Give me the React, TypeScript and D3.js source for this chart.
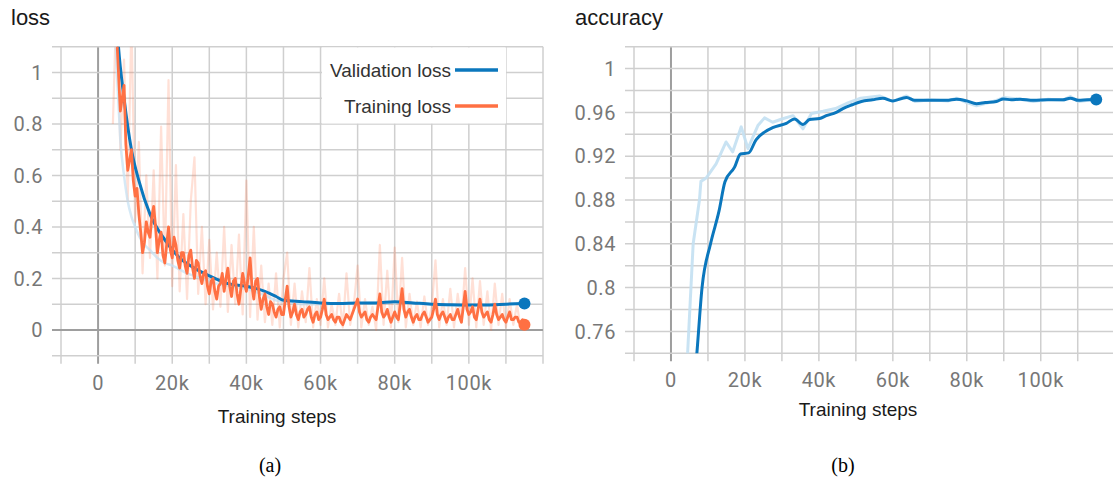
import React, { useEffect, useRef } from 'react';
import * as d3 from 'd3';

const W = 1113;
const H = 479;

// training loss (smoothed), logged every 500 steps from 5k
const trainStart = 5000;
const trainEvery = 500;
const trainLoss = [
  1.15, 1.0, 0.85, 0.9, 0.95, 0.72, 0.62, 0.66, 0.7, 0.58,
  0.52, 0.55, 0.45, 0.38, 0.3, 0.34, 0.42, 0.38, 0.36, 0.44,
  0.48, 0.4, 0.3, 0.35, 0.38, 0.29, 0.26, 0.33, 0.4, 0.31,
  0.28, 0.36, 0.33, 0.27, 0.24, 0.3, 0.3, 0.25, 0.22, 0.29,
  0.31, 0.24, 0.2, 0.27, 0.26, 0.21, 0.18, 0.22, 0.23, 0.17,
  0.14, 0.19, 0.2, 0.15, 0.12, 0.17, 0.18, 0.22, 0.15, 0.2,
  0.24, 0.17, 0.13, 0.19, 0.2, 0.14, 0.1, 0.16, 0.22, 0.18,
  0.15, 0.21, 0.28, 0.17, 0.12, 0.19, 0.2, 0.13, 0.08, 0.12,
  0.14, 0.09, 0.06, 0.11, 0.1, 0.07, 0.05, 0.08, 0.09, 0.06,
  0.06, 0.12, 0.17, 0.09, 0.05, 0.07, 0.1, 0.06, 0.04, 0.07,
  0.08, 0.05, 0.06, 0.08, 0.09, 0.05, 0.03, 0.06, 0.07, 0.04,
  0.05, 0.08, 0.12, 0.06, 0.04, 0.05, 0.06, 0.04, 0.03, 0.05,
  0.05, 0.03, 0.02, 0.04, 0.06, 0.05, 0.04, 0.06, 0.08, 0.1,
  0.12, 0.07, 0.05, 0.06, 0.07, 0.04, 0.03, 0.05, 0.06, 0.05,
  0.04, 0.09, 0.14, 0.07, 0.05, 0.06, 0.08, 0.05, 0.03, 0.05,
  0.07, 0.05, 0.04, 0.1, 0.16, 0.08, 0.05, 0.07, 0.08, 0.05,
  0.03, 0.05, 0.06, 0.04, 0.04, 0.06, 0.07, 0.05, 0.03, 0.04,
  0.05, 0.08, 0.12, 0.06, 0.04, 0.06, 0.07, 0.05, 0.03, 0.05,
  0.06, 0.04, 0.04, 0.06, 0.08, 0.05, 0.03, 0.09, 0.15, 0.08,
  0.06, 0.07, 0.09, 0.05, 0.04, 0.08, 0.12, 0.07, 0.05, 0.06,
  0.07, 0.04, 0.03, 0.06, 0.1, 0.06, 0.04, 0.05, 0.06, 0.04,
  0.03, 0.05, 0.07, 0.04, 0.04, 0.05, 0.05, 0.03, 0.03, 0.04,
  0.02,
];

// raw (unsmoothed) training loss, every 1k steps from 4k
const rawStart = 4000;
const rawEvery = 1000;
const trainLossRaw = [
  0.8, 1.3, 0.7, 1.05, 0.5, 1.2, 0.42, 0.73, 0.22, 0.6,
  0.28, 0.62, 0.2, 0.79, 0.25, 0.97, 0.17, 0.64, 0.15, 0.45,
  0.12, 0.5, 0.67, 0.14, 0.4, 0.1, 0.35, 0.08, 0.3, 0.09,
  0.4, 0.07, 0.33, 0.1, 0.37, 0.06, 0.58, 0.05, 0.4, 0.04,
  0.25, 0.03, 0.18, 0.02, 0.22, 0.01, 0.2, 0.3, 0.02, 0.18,
  0.01, 0.15, 0.03, 0.24, 0.01, 0.12, 0.02, 0.2, 0.01, 0.1,
  0.02, 0.14, 0.01, 0.22, 0.02, 0.1, 0.25, 0.01, 0.12, 0.02,
  0.09, 0.0, 0.33, 0.02, 0.23, 0.01, 0.32, 0.03, 0.28, 0.01,
  0.14, 0.02, 0.11, 0.01, 0.13, 0.02, 0.09, 0.27, 0.01, 0.12,
  0.02, 0.16, 0.01, 0.14, 0.03, 0.24, 0.02, 0.2, 0.01, 0.19,
  0.02, 0.15, 0.0, 0.18, 0.02, 0.14, 0.01, 0.12, 0.02, 0.1,
  0.0,
];

const valSteps = [
  4800, 5500, 7000, 9000, 11000, 14000, 18000, 22000, 26000, 30000,
  35000, 40000, 45000, 48000, 50000, 55000, 60000, 65000, 70000, 75000,
  80000, 85000, 90000, 95000, 100000, 105000, 110000, 115000,
];
const valLoss = [
  1.25, 1.1, 0.9, 0.7, 0.58, 0.45, 0.35, 0.28, 0.24, 0.21,
  0.18, 0.17, 0.15, 0.13, 0.115, 0.11, 0.105, 0.103, 0.105, 0.105,
  0.11, 0.105, 0.1, 0.098, 0.097, 0.097, 0.1, 0.103,
];

const valRawSteps = [
  4500, 5000, 5500, 6000, 7000, 8000, 9000, 10000, 12000, 14000,
  16000, 18000, 20000, 24000, 28000, 32000, 36000, 40000, 44000, 48000,
  52000, 56000, 60000, 70000, 80000, 90000, 100000, 110000, 115000,
];
const valLossRaw = [
  1.2, 1.02, 0.88, 0.74, 0.6, 0.5, 0.44, 0.4, 0.34, 0.31,
  0.28, 0.26, 0.25, 0.22, 0.2, 0.18, 0.17, 0.16, 0.14, 0.115,
  0.105, 0.1, 0.1, 0.104, 0.108, 0.098, 0.095, 0.1, 0.102,
];

const accSteps = [
  6500, 7000, 8400, 10700, 13000, 14600, 17200, 18800, 21000, 23000,
  25300, 27500, 31200, 33400, 35700, 37500, 40200, 42000, 44700, 46500,
  49000, 51500, 54500, 57300, 60000, 63700, 65900, 70000, 74500, 77200,
  80000, 82600, 85000, 88000, 89900, 92000, 94400, 98000, 102000, 106000,
  108000, 110200, 112500, 115000,
];
const accuracy = [
  0.72, 0.74, 0.8, 0.84, 0.87, 0.8966, 0.91, 0.922, 0.923, 0.935,
  0.942, 0.946, 0.95, 0.954, 0.949, 0.9535, 0.9544, 0.957, 0.96, 0.9635,
  0.967, 0.97, 0.9715, 0.973, 0.9705, 0.9736, 0.971, 0.971, 0.971, 0.972,
  0.9705, 0.968, 0.969, 0.97, 0.9723, 0.9715, 0.972, 0.971, 0.9715, 0.9715,
  0.973, 0.971, 0.9715, 0.9717,
];

const accRawSteps = [
  4000, 4500, 6000, 7700, 8100, 9500, 12200, 14900, 16700, 19000,
  20800, 23500, 25300, 27500, 30000, 33000, 35700, 38000, 41100, 44500,
  48000, 51300, 56400, 60000, 63700, 66000, 70000, 75000, 77200, 80000,
  82600, 85000, 88000, 90000, 94400, 98000, 102000, 106000, 108000, 110200,
  115000,
];
const accuracyRaw = [
  0.7, 0.74, 0.84, 0.88, 0.897, 0.9, 0.913, 0.933, 0.924, 0.9468,
  0.927, 0.948, 0.955, 0.951, 0.954, 0.957, 0.945, 0.959, 0.961, 0.9635,
  0.969, 0.973, 0.975, 0.97, 0.975, 0.97, 0.9715, 0.9705, 0.973, 0.969,
  0.966, 0.968, 0.971, 0.9735, 0.972, 0.97, 0.972, 0.971, 0.9745, 0.97,
  0.972,
];

const xTicks = [0, 20000, 40000, 60000, 80000, 100000];
const lossTicks = [0, 0.2, 0.4, 0.6, 0.8, 1];
const accTicks = [0.76, 0.8, 0.84, 0.88, 0.92, 0.96, 1];

const BLUE = '#0b77bd';
const LIGHT_BLUE = '#c3e0f2';
const ORANGE = '#ff7043';
const TICK_FONT = 'Roboto, sans-serif';
const LABEL_FONT = '"Liberation Sans", Arial, sans-serif';

type Pt = [number, number];

const App = () => {
  const svgRef = useRef<SVGSVGElement>(null);

  useEffect(() => {
    const svg = d3.select(svgRef.current);
    svg.selectAll('*').remove();

    const drawPanel = (opts: {
      id: string;
      x0: number; x1: number; y0: number; y1: number;
      yDomain: [number, number]; yGrid: number; yTicks: number[];
      title: string; titleX: number; axisLabelX: number; axisLabelY: number;
    }) => {
      const x = d3.scaleLinear().domain([-10000, 120000]).range([opts.x0, opts.x1]);
      const y = d3.scaleLinear().domain(opts.yDomain).range([opts.y1, opts.y0]);
      const g = svg.append('g');

      g.append('clipPath').attr('id', opts.id)
        .append('rect')
        .attr('x', opts.x0).attr('y', opts.y0)
        .attr('width', Math.min(opts.x1, W) - opts.x0).attr('height', opts.y1 - opts.y0);

      // grid, with the lines running past the frame as ticks
      const xGrid = d3.range(-10000, 120001, 10000);
      g.selectAll('.vg').data(xGrid).enter().append('line')
        .attr('x1', (d) => x(d)).attr('x2', (d) => x(d))
        .attr('y1', opts.y0).attr('y2', opts.y1 + 8)
        .attr('stroke', (d) => (d === 0 ? '#9e9e9e' : '#cfcfcf'))
        .attr('stroke-width', (d) => (d === 0 ? 2 : 1.5));
      const n = Math.round((opts.yDomain[1] - opts.yDomain[0]) / opts.yGrid);
      const yGridVals = d3.range(0, n + 1).map((i) => opts.yDomain[0] + i * opts.yGrid);
      g.selectAll('.hg').data(yGridVals).enter().append('line')
        .attr('x1', opts.x0 - 9).attr('x2', opts.x1)
        .attr('y1', (d) => y(d)).attr('y2', (d) => y(d))
        .attr('stroke', (d) => (Math.abs(d) < 1e-9 ? '#9e9e9e' : '#cfcfcf'))
        .attr('stroke-width', (d) => (Math.abs(d) < 1e-9 ? 2 : 1.5));

      // tick labels
      g.selectAll('.xt').data(xTicks).enter().append('text')
        .attr('x', (d) => x(d)).attr('y', opts.y1 + 34)
        .attr('text-anchor', 'middle')
        .attr('font-family', TICK_FONT).attr('font-size', 20)
        .attr('letter-spacing', 0.6).attr('fill', '#777')
        .text((d) => (d === 0 ? '0' : `${d / 1000}k`));
      g.selectAll('.yt').data(opts.yTicks).enter().append('text')
        .attr('x', opts.x0 - 18).attr('y', (d) => y(d)).attr('dy', '0.36em')
        .attr('text-anchor', 'end')
        .attr('font-family', TICK_FONT).attr('font-size', 20)
        .attr('letter-spacing', 0.6).attr('fill', '#777')
        .text((d) => String(d));

      g.append('text')
        .attr('x', opts.titleX).attr('y', 25)
        .attr('font-family', LABEL_FONT).attr('font-size', 22).attr('fill', '#1a1a1a')
        .text(opts.title);
      g.append('text')
        .attr('x', opts.axisLabelX).attr('y', opts.axisLabelY)
        .attr('text-anchor', 'middle')
        .attr('font-family', LABEL_FONT).attr('font-size', 19).attr('fill', '#1a1a1a')
        .text('Training steps');

      const plot = g.append('g').attr('clip-path', `url(#${opts.id})`);
      return { x, y, plot, g };
    };

    const addLine = (plot: any, pts: Pt[], color: string, width: number, curve: any, opacity = 1) => {
      plot.append('path')
        .attr('d', d3.line<Pt>().x((d) => d[0]).y((d) => d[1]).curve(curve)(pts))
        .attr('fill', 'none').attr('stroke', color)
        .attr('stroke-width', width).attr('stroke-opacity', opacity)
        .attr('stroke-linejoin', 'round');
    };

    // ---------- loss ----------
    const L = drawPanel({
      id: 'clipLoss', x0: 61, x1: 543, y0: 46.7, y1: 355.7,
      yDomain: [-0.1, 1.1], yGrid: 0.1, yTicks: lossTicks,
      title: 'loss', titleX: 11, axisLabelX: 277, axisLabelY: 423,
    });
    const trainRawPts: Pt[] = trainLossRaw.map((v, i) => [L.x(rawStart + i * rawEvery), L.y(v)]);
    const trainPts: Pt[] = trainLoss.map((v, i) => [L.x(trainStart + i * trainEvery), L.y(v)]);
    const valRawPts: Pt[] = valLossRaw.map((v, i) => [L.x(valRawSteps[i]), L.y(v)]);
    const valPts: Pt[] = valLoss.map((v, i) => [L.x(valSteps[i]), L.y(v)]);
    addLine(L.plot, trainRawPts, ORANGE, 2.2, d3.curveLinear, 0.22);
    addLine(L.plot, valRawPts, LIGHT_BLUE, 2.5, d3.curveMonotoneX, 0.7);
    addLine(L.plot, valPts, BLUE, 3, d3.curveMonotoneX);
    addLine(L.plot, trainPts, ORANGE, 2.8, d3.curveLinear);
    const lv = valPts[valPts.length - 1];
    const lt = trainPts[trainPts.length - 1];
    L.g.append('circle').attr('cx', lv[0]).attr('cy', lv[1]).attr('r', 6).attr('fill', BLUE);
    L.g.append('circle').attr('cx', lt[0]).attr('cy', lt[1]).attr('r', 6).attr('fill', ORANGE);

    // legend
    const legend = L.g.append('g');
    legend.append('rect').attr('x', 322).attr('y', 47.5).attr('width', 184).attr('height', 76).attr('fill', '#fff');
    const items = [
      { label: 'Validation loss', color: BLUE, y: 70 },
      { label: 'Training loss', color: ORANGE, y: 106 },
    ];
    items.forEach((it) => {
      legend.append('text')
        .attr('x', 451).attr('y', it.y + 7).attr('text-anchor', 'end')
        .attr('font-family', LABEL_FONT).attr('font-size', 19).attr('fill', '#333')
        .text(it.label);
      legend.append('line')
        .attr('x1', 455).attr('x2', 498).attr('y1', it.y).attr('y2', it.y)
        .attr('stroke', it.color).attr('stroke-width', 3.5);
    });

    // ---------- accuracy ----------
    const A = drawPanel({
      id: 'clipAcc', x0: 634, x1: 1114.7, y0: 46.7, y1: 353.3,
      yDomain: [0.74, 1.02], yGrid: 0.02, yTicks: accTicks,
      title: 'accuracy', titleX: 575, axisLabelX: 858, axisLabelY: 416,
    });
    const accRawPts: Pt[] = accuracyRaw.map((v, i) => [A.x(accRawSteps[i]), A.y(v)]);
    const accPts: Pt[] = accuracy.map((v, i) => [A.x(accSteps[i]), A.y(v)]);
    addLine(A.plot, accRawPts, LIGHT_BLUE, 3, d3.curveLinear, 0.9);
    addLine(A.plot, accPts, BLUE, 3, d3.curveMonotoneX);
    const la = accPts[accPts.length - 1];
    A.g.append('circle').attr('cx', la[0]).attr('cy', la[1]).attr('r', 6).attr('fill', BLUE);

    // captions
    svg.append('text').attr('x', 270).attr('y', 472).attr('text-anchor', 'middle')
      .attr('font-family', '"Liberation Serif", "DejaVu Serif", serif').attr('font-size', 20).attr('fill', '#000')
      .text('(a)');
    svg.append('text').attr('x', 843).attr('y', 472).attr('text-anchor', 'middle')
      .attr('font-family', '"Liberation Serif", "DejaVu Serif", serif').attr('font-size', 20).attr('fill', '#000')
      .text('(b)');
  }, []);

  return (
    <svg
      ref={svgRef}
      width={W}
      height={H}
      style={{ position: 'absolute', left: 0, top: 0, background: '#fff' }}
    />
  );
};

export default App;
